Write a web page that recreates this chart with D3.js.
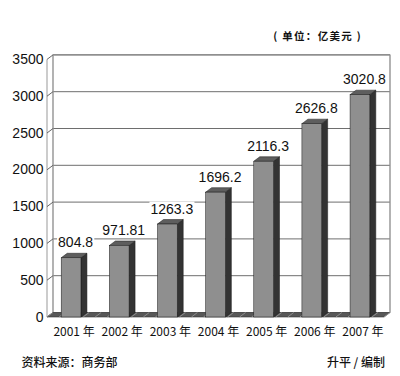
<!DOCTYPE html>
<html><head><meta charset="utf-8">
<script src="https://cdn.jsdelivr.net/npm/d3@7"></script>
<style>
html,body{margin:0;padding:0;background:#fff;}
svg{display:block;}
text{font-family:"Liberation Sans",Arial,sans-serif;fill:#111;}
.cjk{font-family:"Noto Sans CJK SC","Liberation Sans",sans-serif;}
</style></head>
<body>
<script>
const years = ["2001 年","2002 年","2003 年","2004 年","2005 年","2006 年","2007 年"];
const values = [804.8, 971.81, 1263.3, 1696.2, 2116.3, 2626.8, 3020.8];
const valueLabels = ["804.8","971.81","1263.3","1696.2","2116.3","2626.8","3020.8"];
const yTicks = [0,500,1000,1500,2000,2500,3000,3500];
const unitText = "( 单位：亿美元 )";
const sourceText = "资料来源：商务部";
const authorText = "升平 / 编制";

const W = 400, H = 376;
const dx = 6, dy = -4.5;
const svg = d3.select("body").append("svg").attr("width", W).attr("height", H);

const x = d3.scaleBand().domain(years).range([47, 384]).padding(0);
const y = d3.scaleLinear().domain([0, 3500]).range([317, 59.4]);
const bw = x.bandwidth() * 0.41;
const bx = d => x(d) + (x.bandwidth() - bw) / 2;

const y0 = y(0), yTop = y(3500);
const xl = x.range()[0], xr = x.range()[1];

// back wall
svg.append("rect").attr("x", xl + dx).attr("y", yTop + dy)
  .attr("width", xr - xl).attr("height", y0 - yTop)
  .attr("fill", "#fff").attr("stroke", "#999").attr("stroke-width", 1);

// gridlines on back wall
svg.append("g").selectAll("line").data(yTicks.filter(v => v > 0)).join("line")
  .attr("x1", xl + dx).attr("x2", xr + dx)
  .attr("y1", d => y(d) + dy).attr("y2", d => y(d) + dy)
  .attr("stroke", "#6e6e6e").attr("stroke-width", 1);

// left wall
svg.append("line").attr("x1", xl).attr("x2", xl).attr("y1", yTop).attr("y2", y0)
  .attr("stroke", "#999");
svg.append("line").attr("x1", xl + dx).attr("x2", xl + dx).attr("y1", yTop + dy).attr("y2", y0 + dy)
  .attr("stroke", "#999");
svg.append("g").selectAll("line").data(yTicks).join("line")
  .attr("x1", xl).attr("x2", xl + dx)
  .attr("y1", d => y(d)).attr("y2", d => y(d) + dy)
  .attr("stroke", "#666");

// right wall edge
svg.append("line").attr("x1", xr + dx).attr("x2", xr + dx).attr("y1", yTop + dy).attr("y2", y0 + dy)
  .attr("stroke", "#999");

// floor
svg.append("path")
  .attr("d", `M${xl},${y0}L${xr},${y0}L${xr + dx},${y0 + dy}L${xl + dx},${y0 + dy}Z`)
  .attr("fill", "#575757").attr("stroke", "#333").attr("stroke-width", 0.6);
const floorMarks = [];
years.forEach(c => {
  const s = x(c), st = x.step();
  [0, 0.25, 0.75].forEach(f => floorMarks.push(s + st * f));
});
floorMarks.push(xr);
svg.append("g").selectAll("line").data(floorMarks).join("line")
  .attr("x1", d => d).attr("x2", d => d + dx)
  .attr("y1", y0).attr("y2", y0 + dy)
  .attr("stroke", "#9a9a9a").attr("stroke-width", 0.8);

// y tick labels
svg.append("g").selectAll("text").data(yTicks).join("text")
  .attr("x", 43.5).attr("y", d => y(d) + 4.5)
  .attr("text-anchor", "end").attr("font-size", 14).text(d => d);

// bars
const data = years.map((c, i) => ({c, v: values[i], l: valueLabels[i]}));
const bars = svg.append("g").selectAll("g").data(data).join("g");
bars.append("path") // side
  .attr("d", d => {
    const X = bx(d.c) + bw, Y = y(d.v);
    return `M${X},${Y}L${X + dx},${Y + dy}L${X + dx},${y0 + dy}L${X},${y0}Z`;
  })
  .attr("fill", "#333").attr("stroke", "#1a1a1a").attr("stroke-width", 0.5);
bars.append("path") // top
  .attr("d", d => {
    const X = bx(d.c), Y = y(d.v);
    return `M${X},${Y}L${X + dx},${Y + dy}L${X + bw + dx},${Y + dy}L${X + bw},${Y}Z`;
  })
  .attr("fill", "#5e5e5e").attr("stroke", "#1a1a1a").attr("stroke-width", 0.5);
bars.append("rect") // front
  .attr("x", d => bx(d.c)).attr("y", d => y(d.v))
  .attr("width", bw).attr("height", d => y0 - y(d.v))
  .attr("fill", "#8f8f8f").attr("stroke", "#1a1a1a").attr("stroke-width", 0.5);

// value labels with white background
const lab = svg.append("g").selectAll("g").data(data).join("g")
  .attr("transform", d => `translate(${bx(d.c) + (bw + dx) / 2 + 1.5},${y(d.v) - 10.5})`);
lab.append("text").attr("text-anchor", "middle").attr("font-size", 14).text(d => d.l)
  .each(function() {
    const b = this.getBBox();
    d3.select(this.parentNode).insert("rect", "text")
      .attr("x", b.x - 1).attr("y", b.y + 1).attr("width", b.width + 2).attr("height", b.height - 2)
      .attr("fill", "#fff");
  });

// x labels
svg.append("g").selectAll("text").data(years).join("text")
  .attr("class", "cjk")
  .attr("x", d => x(d) + x.bandwidth() / 2 + dx / 2).attr("y", 336)
  .attr("text-anchor", "middle").attr("font-size", 12).text(d => d);

// unit
svg.append("text").attr("class", "cjk").attr("x", 362).attr("y", 39.5)
  .attr("text-anchor", "end").attr("font-size", 10.5).attr("font-weight", "bold")
  .attr("letter-spacing", 1.3).text(unitText);

// footer
svg.append("text").attr("class", "cjk").attr("x", 21.5).attr("y", 367)
  .attr("font-size", 12).attr("font-weight", 500).text(sourceText);
svg.append("text").attr("class", "cjk").attr("x", 385).attr("y", 367)
  .attr("text-anchor", "end").attr("font-size", 12).attr("font-weight", 500).text(authorText);
</script>
</body></html>
